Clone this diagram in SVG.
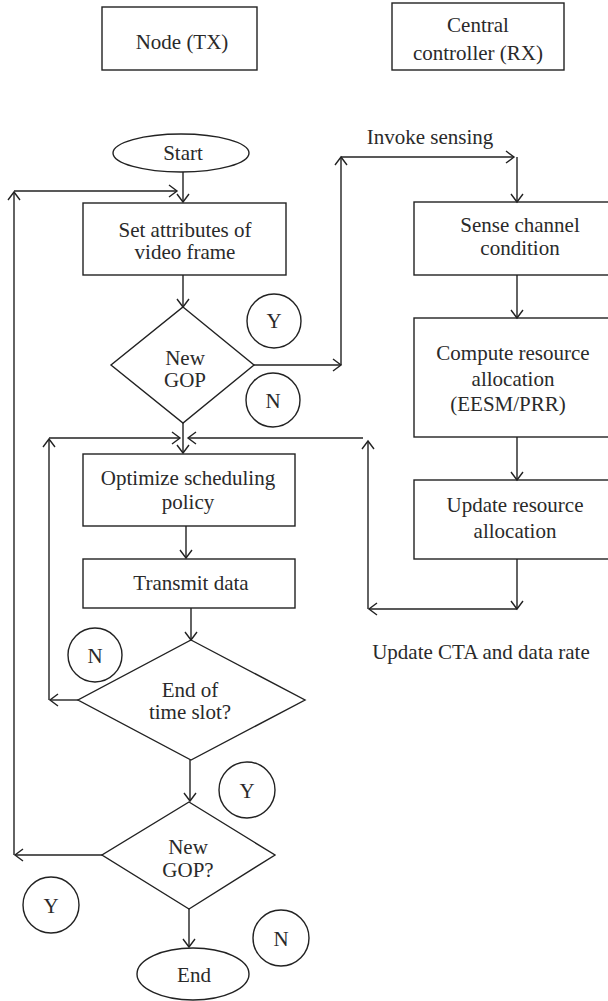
<svg xmlns="http://www.w3.org/2000/svg" width="608" height="1001" viewBox="0 0 608 1001">
<style>
.s{fill:none;stroke:#222;stroke-width:1.4}
.t{font-family:"Liberation Serif",serif;font-size:21px;fill:#2a2a2a;text-anchor:middle}
.c{fill:none;stroke:#222;stroke-width:1.4;marker-end:url(#a)}
</style>
<defs>
<marker id="a" markerUnits="userSpaceOnUse" markerWidth="14" markerHeight="14" refX="9" refY="6" orient="auto" overflow="visible">
<path d="M1,0 L9,6 L1,12" fill="none" stroke="#222" stroke-width="1.4"/>
</marker>
</defs>
<rect width="608" height="1001" fill="#fff"/>
<g id="node-tx"><rect class="s" x="102" y="7" width="155" height="63"/><text class="t" x="182" y="49">Node (TX)</text></g>
<g id="controller-rx"><rect class="s" x="392" y="3" width="172" height="67"/><text class="t" x="478" y="32">Central</text><text class="t" x="478" y="60">controller (RX)</text></g>
<g id="start"><ellipse class="s" cx="181" cy="153" rx="68" ry="19"/><text class="t" x="183" y="160">Start</text></g>
<g id="set-attr"><rect class="s" x="83" y="203" width="203" height="72"/><text class="t" x="185" y="237">Set attributes of</text><text class="t" x="185" y="259">video frame</text></g>
<g id="new-gop1"><polygon class="s" points="183,307 254,365 183,423 111,365"/><text class="t" x="185" y="365">New</text><text class="t" x="185" y="387">GOP</text></g>
<g id="y1"><circle class="s" cx="274" cy="321" r="27"/><text class="t" x="274" y="328">Y</text></g>
<g id="n1"><circle class="s" cx="273" cy="400" r="27"/><text class="t" x="273" y="408">N</text></g>
<g id="sense"><rect class="s" x="414" y="202" width="212" height="73"/><text class="t" x="520" y="232">Sense channel</text><text class="t" x="520" y="255">condition</text></g>
<g id="compute"><rect class="s" x="414" y="318" width="212" height="119"/><text class="t" x="513" y="360">Compute resource</text><text class="t" x="513" y="386">allocation</text><text class="t" x="508" y="411">(EESM/PRR)</text></g>
<g id="update"><rect class="s" x="414" y="480" width="212" height="79"/><text class="t" x="515" y="512">Update resource</text><text class="t" x="515" y="538">allocation</text></g>
<g id="optimize"><rect class="s" x="83" y="454" width="212" height="72"/><text class="t" x="188" y="485">Optimize scheduling</text><text class="t" x="188" y="509">policy</text></g>
<g id="transmit"><rect class="s" x="83" y="559" width="212" height="49"/><text class="t" x="191" y="590">Transmit data</text></g>
<g id="end-slot"><polygon class="s" points="191,640 305,700 191,760 78,700"/><text class="t" x="190" y="697">End of</text><text class="t" x="190" y="719">time slot?</text></g>
<g id="n2"><circle class="s" cx="95" cy="655" r="27"/><text class="t" x="95" y="663">N</text></g>
<g id="y2"><circle class="s" cx="247" cy="790" r="28"/><text class="t" x="247" y="798">Y</text></g>
<g id="new-gop2"><polygon class="s" points="189,802 275,855 189,909 102,855"/><text class="t" x="188" y="854">New</text><text class="t" x="188" y="877">GOP?</text></g>
<g id="y3"><circle class="s" cx="51" cy="905" r="28"/><text class="t" x="51" y="913">Y</text></g>
<g id="n3"><circle class="s" cx="281" cy="938" r="28"/><text class="t" x="281" y="946">N</text></g>
<g id="end"><ellipse class="s" cx="193" cy="974" rx="56" ry="26"/><text class="t" x="194" y="982">End</text></g>
<g id="labels"><text class="t" x="430" y="144">Invoke sensing</text><text class="t" x="481" y="659">Update CTA and data rate</text></g>
<g id="connectors">
<line class="c" x1="183" y1="172" x2="183" y2="202"/>
<line class="c" x1="14" y1="191" x2="177" y2="191"/>
<line class="c" x1="183" y1="275" x2="183" y2="307"/>
<line class="c" x1="254" y1="365" x2="341" y2="365"/>
<line class="c" x1="341" y1="365" x2="341" y2="157"/>
<line class="c" x1="341" y1="157" x2="514" y2="157"/>
<line class="c" x1="517" y1="157" x2="517" y2="202"/>
<line class="c" x1="517" y1="275" x2="517" y2="318"/>
<line class="c" x1="517" y1="437" x2="517" y2="480"/>
<line class="c" x1="517" y1="559" x2="517" y2="609"/>
<line class="c" x1="517" y1="609" x2="369" y2="609"/>
<line class="c" x1="368" y1="609" x2="368" y2="441"/>
<line class="c" x1="363" y1="438" x2="188" y2="438"/>
<line class="c" x1="183" y1="423" x2="183" y2="453"/>
<line class="c" x1="49" y1="438" x2="180" y2="438"/>
<line class="c" x1="49" y1="700" x2="49" y2="439"/>
<line class="c" x1="78" y1="700" x2="50" y2="700"/>
<line class="c" x1="186" y1="526" x2="186" y2="558"/>
<line class="c" x1="191" y1="608" x2="191" y2="640"/>
<line class="c" x1="190" y1="760" x2="190" y2="801"/>
<line class="c" x1="102" y1="855" x2="15" y2="855"/>
<line class="c" x1="14" y1="855" x2="14" y2="192"/>
<line class="c" x1="189" y1="909" x2="189" y2="947"/>
</g>
</svg>
